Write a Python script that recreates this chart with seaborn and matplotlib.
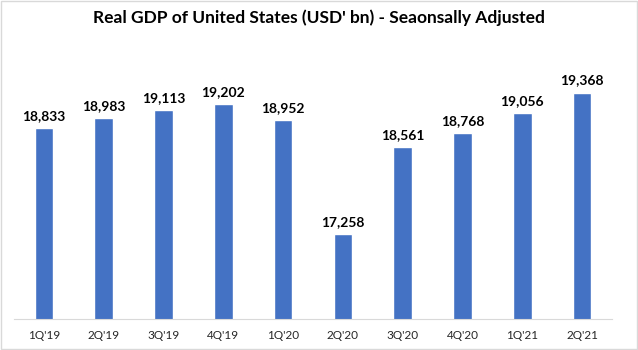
import pandas as pd
import numpy as np
import matplotlib.pyplot as plt
import seaborn as sns

quarters = ["1Q'19", "2Q'19", "3Q'19", "4Q'19", "1Q'20", "2Q'20", "3Q'20", "4Q'20", "1Q'21", "2Q'21"]
gdp = [18833, 18983, 19113, 19202, 18952, 17258, 18561, 18768, 19056, 19368]

df = pd.DataFrame({'Quarter': quarters, 'GDP': gdp})

sns.set_style('white')
plt.rcParams['font.family'] = ['Lato', 'DejaVu Sans']

fig = plt.figure(figsize=(6.38, 3.5), dpi=100)
ax = fig.add_axes([14/638, 1 - 319/350, 598/638, 269/350])

sns.barplot(x='Quarter', y='GDP', data=df, color='#4472C4', width=0.31, saturation=1, ax=ax)

ax.set_ylim(16000, 20000)
ax.set_xlim(-0.5, len(quarters) - 0.5)
ax.set_yticks([])
ax.set_xlabel('')
ax.set_ylabel('')
for s in ['top', 'left', 'right']:
    ax.spines[s].set_visible(False)
ax.spines['bottom'].set_color('#D9D9D9')
ax.tick_params(axis='x', length=0, labelsize=8.5, labelcolor='#262626', pad=8)

# value labels above bars
for i, v in enumerate(gdp):
    ax.text(i, v + 90, '{:,}'.format(v), ha='center', va='bottom',
            fontsize=10, fontweight='bold', color='black')

fig.text(0.5, 1 - 18/350, "Real GDP of United States (USD' bn) - Seaonsally Adjusted",
         ha='center', va='center', fontsize=12.5, fontweight='bold', color='black')

# light border round the whole picture
fig.patches.append(plt.Rectangle((0.001, 0.002), 0.997, 0.996, transform=fig.transFigure,
                                 fill=False, edgecolor='#D9D9D9', linewidth=1))

fig.savefig('out.png', dpi=100)
